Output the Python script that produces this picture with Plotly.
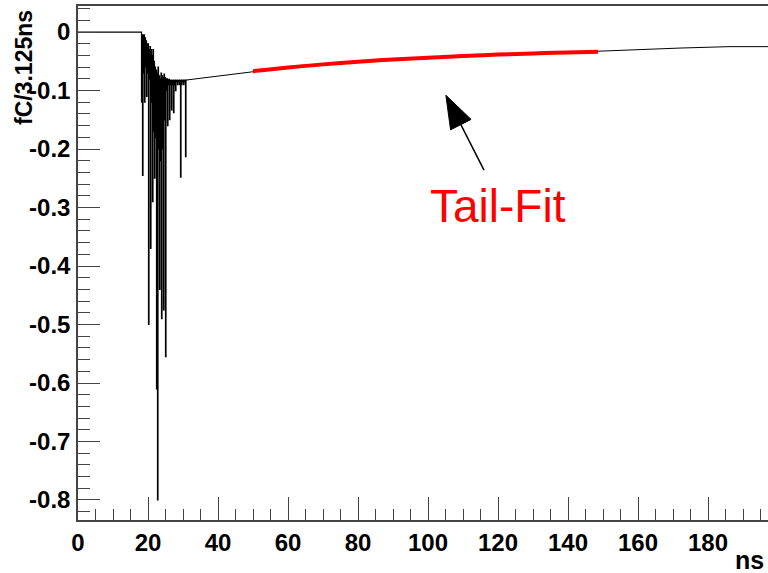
import math
import plotly.graph_objects as go

# ---------------- data ----------------
baseline_t = [0.0, 18.0]
baseline_v = [0.0, 0.0]

SPIKE_START = 18.0      # ns
SPIKE_DT = 0.2857       # ns per column
spike_lows = [-0.12, -0.245, -0.07, -0.12, -0.06, -0.11, -0.07, -0.50, -0.08, -0.37,
              -0.12, -0.29, -0.17, -0.25, -0.18, -0.61, -0.80, -0.20, -0.44, -0.22,
              -0.49, -0.20, -0.475, -0.15, -0.555, -0.10, -0.16, -0.09, -0.15, -0.09,
              -0.133, -0.09, -0.138, -0.09, -0.10, -0.085, -0.09, -0.085, -0.09, -0.248,
              -0.09, -0.085, -0.09, -0.085, -0.213, -0.083]
spike_highs = [0.0, -0.005, -0.005, -0.005, -0.01, -0.015, -0.02, -0.02, -0.03, -0.025,
               -0.03, -0.04, -0.03, -0.05, -0.06, -0.065, -0.07, -0.06, -0.075, -0.08,
               -0.07, -0.075, -0.078, -0.072, -0.078, -0.08, -0.08, -0.082, -0.081, -0.083,
               -0.082, -0.083, -0.082, -0.083, -0.082, -0.083, -0.082, -0.083, -0.082, -0.083,
               -0.082, -0.082, -0.082, -0.082, -0.082, -0.082]

tail_t = [31, 35, 40, 45, 50, 60, 70, 80, 90, 100, 110, 120, 130, 140, 150, 159.4, 172, 186, 197.2]
tail_v = [-0.082, -0.079, -0.075, -0.071, -0.067, -0.0605, -0.0553, -0.0508, -0.047, -0.0438,
          -0.041, -0.0386, -0.0366, -0.0348, -0.0325, -0.0296, -0.0274, -0.025, -0.025]

fit_t = [50, 60, 70, 80, 90, 100, 110, 120, 130, 140, 148.6]
fit_v = [-0.067, -0.0605, -0.0553, -0.0508, -0.047, -0.0438, -0.041, -0.0386, -0.0366, -0.0348, -0.0335]

x_ticks = [0, 20, 40, 60, 80, 100, 120, 140, 160, 180]
y_ticks = [0, -0.1, -0.2, -0.3, -0.4, -0.5, -0.6, -0.7, -0.8]
X_RANGE = [0, 197.14]
Y_RANGE = [-0.8342, 0.0445]

ARROW_TIP = (105.1, -0.108)
ARROW_TAIL = (116.0, -0.236)
LABEL_POS = (120.0, -0.297)

# ---------------- layout constants ----------------
W, H = 768, 573
ML, MR, MT, MB = 78, 0, 6, 53
PW, PH = W - ML - MR, H - MT - MB
px_per_x = PW / (X_RANGE[1] - X_RANGE[0])
px_per_y = PH / (Y_RANGE[1] - Y_RANGE[0])

FONT = "Liberation Sans, Arial"

# build spike polyline (histogram-like steps)
sig_t, sig_v = list(baseline_t), list(baseline_v)
for i, (lo, hi) in enumerate(zip(spike_lows, spike_highs)):
    t0 = SPIKE_START + i * SPIKE_DT
    sig_t += [t0, t0 + SPIKE_DT / 2]
    sig_v += [hi, lo]
sig_t.append(tail_t[0])
sig_v.append(tail_v[0])

fig = go.Figure()
fig.add_trace(go.Scatter(x=sig_t, y=sig_v, mode="lines", line=dict(color="black", width=1.2, shape="hv"),
                         showlegend=False, hoverinfo="skip"))
fig.add_trace(go.Scatter(x=tail_t, y=tail_v, mode="lines", line=dict(color="black", width=1),
                         showlegend=False, hoverinfo="skip"))
fig.add_trace(go.Scatter(x=fit_t, y=fit_v, mode="lines", line=dict(color="#ff0000", width=4, shape="spline"),
                         showlegend=False, hoverinfo="skip"))

# arrow: shaft + filled head
dxp = (ARROW_TIP[0] - ARROW_TAIL[0]) * px_per_x
dyp = (ARROW_TIP[1] - ARROW_TAIL[1]) * px_per_y
L = math.hypot(dxp, dyp)
ux, uy = dxp / L, dyp / L
HEAD_LEN, HEAD_HALF = 33, 11.5
bx, by = -ux * HEAD_LEN, -uy * HEAD_LEN
c1 = (bx - uy * HEAD_HALF, by + ux * HEAD_HALF)
c2 = (bx + uy * HEAD_HALF, by - ux * HEAD_HALF)
def to_data(p):
    return ARROW_TIP[0] + p[0] / px_per_x, ARROW_TIP[1] + p[1] / px_per_y
base = to_data((bx, by))
p1, p2 = to_data(c1), to_data(c2)
fig.add_shape(type="line", x0=ARROW_TAIL[0], y0=ARROW_TAIL[1], x1=base[0], y1=base[1],
              line=dict(color="black", width=1.5))
fig.add_shape(type="path",
              path=f"M {ARROW_TIP[0]} {ARROW_TIP[1]} L {p1[0]} {p1[1]} L {p2[0]} {p2[1]} Z",
              fillcolor="black", line=dict(color="black", width=1))

fig.add_annotation(x=LABEL_POS[0], y=LABEL_POS[1], text="Tail-Fit", showarrow=False,
                   font=dict(family=FONT, size=46, color="#ff0000"),
                   xanchor="center", yanchor="middle")

fig.add_annotation(xref="paper", yref="paper", x=(24 - ML) / PW, y=(H - MB - 67) / PH,
                   text="fC/3.125ns", textangle=-90, showarrow=False,
                   font=dict(family=FONT, size=23, color="black", weight="bold"),
                   xanchor="center", yanchor="middle")
fig.add_annotation(xref="paper", yref="paper", x=(766 - ML) / PW, y=-(560 - (H - MB)) / PH,
                   text="ns", showarrow=False,
                   font=dict(family=FONT, size=25, color="black", weight="bold"),
                   xanchor="right", yanchor="middle")

tickfont = dict(family=FONT, size=24, color="black", weight="bold")
fig.update_xaxes(range=X_RANGE, tickvals=x_ticks, ticktext=[str(v) for v in x_ticks],
                 ticks="inside", ticklen=23, tickwidth=1, tickcolor="#444",
                 minor=dict(dtick=5, tick0=0, ticks="inside", ticklen=11, tickcolor="#444", tickwidth=1),
                 showline=True, linecolor="#444", linewidth=1.5, mirror=True,
                 showgrid=False, zeroline=False, tickfont=tickfont, ticklabelstandoff=0)
fig.update_yaxes(range=Y_RANGE, tickvals=y_ticks, ticktext=["0" if v == 0 else f"{v:.1f}" for v in y_ticks],
                 ticks="inside", ticklen=22, tickwidth=1, tickcolor="#444",
                 minor=dict(dtick=0.02, tick0=0, ticks="inside", ticklen=12, tickcolor="#444", tickwidth=1),
                 showline=True, linecolor="#444", linewidth=1.5, mirror=False,
                 showgrid=False, zeroline=False, tickfont=tickfont, ticklabelstandoff=1)
fig.update_layout(width=W, height=H, margin=dict(l=ML, r=MR, t=MT, b=MB),
                  paper_bgcolor="white", plot_bgcolor="white")
fig.write_html("out.html")
